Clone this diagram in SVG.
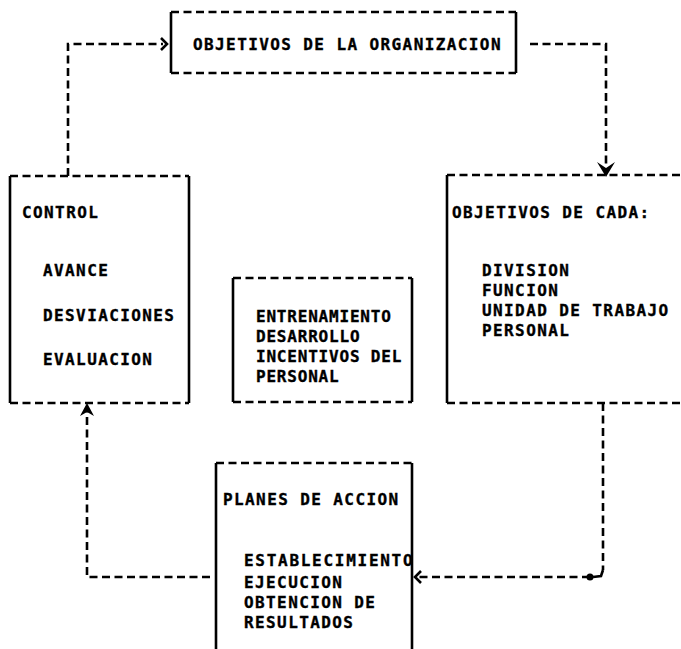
<svg xmlns="http://www.w3.org/2000/svg" width="681" height="649" viewBox="0 0 681 649">
<style>
.d{stroke:#000;stroke-width:2.6;stroke-dasharray:8 4.5;fill:none}
.s{stroke:#000;stroke-width:2.6;fill:none}
.f{fill:#000;stroke:none}
text{font-family:"DejaVu Sans Mono","Liberation Mono",monospace;font-weight:bold;font-size:16px;letter-spacing:1.4px;fill:#000;stroke:#000;stroke-width:0.35}
.m{letter-spacing:0.8px}
</style>
<rect width="681" height="649" fill="#fff"/>
<g id="connectors">
<path class="d" d="M68 176 V44 H163"/>
<polyline class="s" points="161,38 167,44 161,50"/>
<path class="d" d="M530 44 H606 V166"/>
<path class="f" d="M606 177 L597 162 L606 168 L615 162 Z"/>
<path class="d" d="M603 403 V570"/>
<path class="s" d="M603 570 L601 576 L593 577"/>
<path class="d" d="M590 577 H418"/>
<circle class="f" cx="590" cy="577" r="3.5"/>
<polyline class="s" points="421,571 415,577 421,583"/>
<path class="d" d="M210 577 H87 V412"/>
<path class="f" d="M87 403 L80 416 L87 412 L94 416 Z"/>
</g>
<g id="node-objetivos-organizacion">
<path class="d" d="M171 12 H516 M171 73 H516"/>
<path class="s" d="M171 12 V73 M516 12 V73"/>
<text x="193" y="50">OBJETIVOS DE LA ORGANIZACION</text>
</g>
<g id="node-control">
<path class="d" d="M10 176 H189 M10 403 H189"/>
<path class="s" d="M10 176 V403 M189 176 V403"/>
<text x="22" y="218">CONTROL</text>
<text x="43" y="276">AVANCE</text>
<text x="43" y="321">DESVIACIONES</text>
<text x="43" y="365">EVALUACION</text>
</g>
<g id="node-entrenamiento">
<path class="d" d="M233 278 H412 M233 402 H412"/>
<path class="s" d="M233 278 V402 M412 278 V402"/>
<text class="m" x="256" y="322">ENTRENAMIENTO</text>
<text class="m" x="256" y="342">DESARROLLO</text>
<text class="m" x="256" y="362">INCENTIVOS DEL</text>
<text class="m" x="256" y="382">PERSONAL</text>
</g>
<g id="node-objetivos-cada">
<path class="d" d="M447 175 H681 M447 403 H681"/>
<path class="s" d="M447 175 V403"/>
<text x="452" y="218">OBJETIVOS DE CADA:</text>
<text x="482" y="276">DIVISION</text>
<text x="482" y="296">FUNCION</text>
<text x="482" y="316">UNIDAD DE TRABAJO</text>
<text x="482" y="336">PERSONAL</text>
</g>
<g id="node-planes">
<path class="d" d="M216 463 H412"/>
<path class="s" d="M216 463 V649 M412 463 V649"/>
<text x="223" y="505">PLANES DE ACCION</text>
<text x="244" y="566" textLength="170" lengthAdjust="spacing">ESTABLECIMIENTO</text>
<text x="244" y="588">EJECUCION</text>
<text x="244" y="608">OBTENCION DE</text>
<text x="244" y="628">RESULTADOS</text>
</g>
</svg>
